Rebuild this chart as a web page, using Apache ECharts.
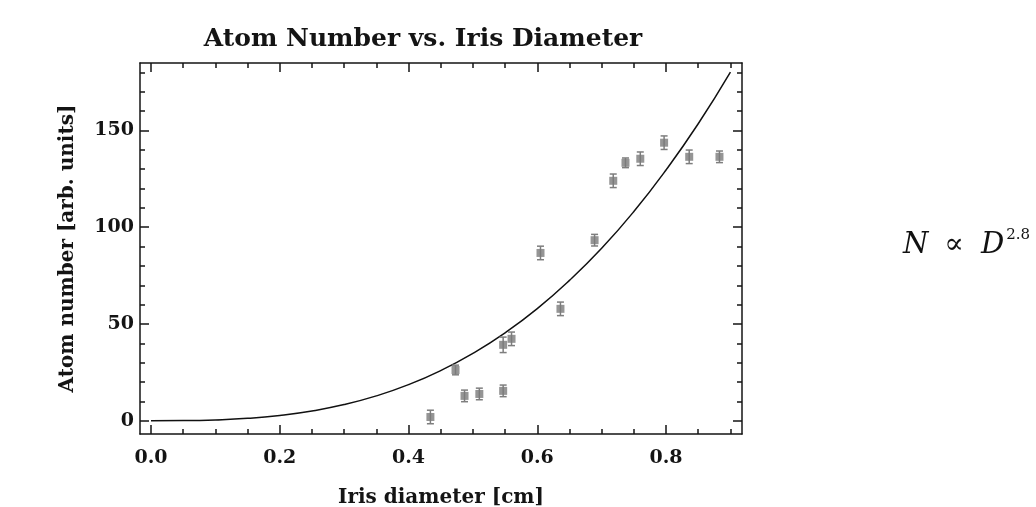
<!DOCTYPE html>
<html><head><meta charset="utf-8">
<script src="https://cdn.jsdelivr.net/npm/echarts@6/dist/echarts.min.js"></script>
<style>html,body{margin:0;padding:0;background:#fff}#c{width:1036px;height:507px}</style>
</head><body><div id="c"></div>
<script>
// Measured data (iris diameter in cm, atom number in arb. units)
const diameters  = [0.434, 0.473, 0.487, 0.510, 0.547, 0.547, 0.560, 0.605, 0.636, 0.689, 0.718, 0.737, 0.760, 0.797, 0.836, 0.883];
const atomNumbers = [1.9, 26.2, 12.8, 13.8, 15.4, 39.2, 42.3, 86.7, 57.8, 93.3, 124.0, 133.3, 135.4, 143.7, 136.4, 136.4];
const atomErrors  = [3.5, 2.5, 3.0, 3.0, 3.0, 4.0, 3.5, 3.5, 3.5, 3.0, 3.5, 2.5, 3.5, 3.5, 3.5, 3.0];
// Fit curve
const fitDiameters  = [0, 0.05, 0.1, 0.15, 0.2, 0.25, 0.3, 0.35, 0.4, 0.45, 0.5, 0.55, 0.6, 0.65, 0.7, 0.75, 0.8, 0.85, 0.9];
const fitAtomNumbers = [0, 0.06, 0.4, 1.2, 2.7, 5.0, 8.3, 12.8, 18.6, 25.9, 34.8, 45.4, 57.9, 72.5, 89.1, 108.1, 129.6, 153.5, 180.2];
// Ticks
const xMajorTicks = [0, 0.2, 0.4, 0.6, 0.8];
const xMinorTicks = [0.05, 0.1, 0.15, 0.25, 0.3, 0.35, 0.45, 0.5, 0.55, 0.65, 0.7, 0.75, 0.85, 0.9];
const yMajorTicks = [0, 50, 100, 150];
const yMinorTicks = [10, 20, 30, 40, 60, 70, 80, 90, 110, 120, 130, 140, 160, 170, 180];

const X_MIN = -0.0171, X_MAX = 0.918, Y_MIN = -6.9, Y_MAX = 184.9;
const FONT = 'DejaVu Serif';
const INK = '#141414';
const frameLine = { color: INK, width: 1.5 };

function xAxisDef(position, ticks, len, withLine, withLabels) {
  return {
    type: 'value', gridIndex: 0, position: position, min: X_MIN, max: X_MAX,
    axisLine: { show: withLine, onZero: false, lineStyle: frameLine },
    axisTick: { show: true, inside: true, length: len, customValues: ticks, lineStyle: frameLine },
    axisLabel: withLabels ? {
      show: true, customValues: ticks, margin: 15,
      formatter: v => v.toFixed(1),
      fontFamily: FONT, fontWeight: 'bold', fontSize: 19, color: INK
    } : { show: false },
    splitLine: { show: false }
  };
}
function yAxisDef(position, ticks, len, withLine, withLabels) {
  return {
    type: 'value', gridIndex: 0, position: position, min: Y_MIN, max: Y_MAX,
    axisLine: { show: withLine, onZero: false, lineStyle: frameLine },
    axisTick: { show: true, inside: true, length: len, customValues: ticks, lineStyle: frameLine },
    axisLabel: withLabels ? {
      show: true, customValues: ticks, margin: 6,
      formatter: v => String(v),
      fontFamily: FONT, fontWeight: 'bold', fontSize: 19, color: INK
    } : { show: false },
    splitLine: { show: false }
  };
}

const xAxes = [
  Object.assign(xAxisDef('bottom', xMajorTicks, 9, true, true), {
    name: 'Iris diameter [cm]', nameLocation: 'middle', nameGap: 54,
    nameTextStyle: { fontFamily: FONT, fontWeight: 'bold', fontSize: 20, color: INK }
  }),
  xAxisDef('bottom', xMinorTicks, 5, false, false),
  xAxisDef('top', xMajorTicks, 9, true, false),
  xAxisDef('top', xMinorTicks, 5, false, false)
];
const yAxes = [
  Object.assign(yAxisDef('left', yMajorTicks, 9, true, true), {
    name: 'Atom number [arb. units]', nameLocation: 'middle', nameGap: 62, nameRotate: 90,
    nameTextStyle: { fontFamily: FONT, fontWeight: 'bold', fontSize: 20, color: INK }
  }),
  yAxisDef('left', yMinorTicks, 5, false, false),
  yAxisDef('right', yMajorTicks, 9, true, false),
  yAxisDef('right', yMinorTicks, 5, false, false)
];

const points = diameters.map((d, i) => [d, atomNumbers[i]]);
const errData = diameters.map((d, i) => [d, atomNumbers[i] - atomErrors[i], atomNumbers[i] + atomErrors[i]]);
const fitData = fitDiameters.map((d, i) => [d, fitAtomNumbers[i]]);

const chart = echarts.init(document.getElementById('c'), null, { renderer: 'canvas' });
chart.setOption({
  backgroundColor: '#ffffff',
  animation: false,
  title: {
    text: 'Atom Number vs. Iris Diameter', left: 418, top: 22, textAlign: 'center',
    textStyle: { fontFamily: FONT, fontWeight: 'bold', fontSize: 25, color: INK }
  },
  grid: { left: 140, top: 63, width: 602, height: 371, containLabel: false, outerBoundsMode: 'none' },
  xAxis: xAxes,
  yAxis: yAxes,
  graphic: [
    {
      type: 'text', right: 6, top: 228,
      style: {
        text: '{i|N}{r|∝}{i|D}{s|2.8}',
        rich: {
          i: { fontFamily: FONT, fontStyle: 'italic', fontSize: 29, fill: '#111', lineHeight: 34 },
          r: { fontFamily: FONT, fontSize: 29, fill: '#111', padding: [0, 17, 0, 16], lineHeight: 34 },
          s: { fontFamily: FONT, fontSize: 15, fill: '#111', verticalAlign: 'top', padding: [0, 0, 0, 2] }
        }
      }
    }
  ],
  series: [
    {
      type: 'line', name: 'fit', data: fitData, smooth: true, showSymbol: false,
      xAxisIndex: 0, yAxisIndex: 0,
      lineStyle: { color: '#111', width: 1.5 }, z: 3
    },
    {
      type: 'custom', name: 'errors', data: errData, xAxisIndex: 0, yAxisIndex: 0, z: 4,
      renderItem: function (params, api) {
        const x = api.value(0);
        const lo = api.coord([x, api.value(1)]);
        const hi = api.coord([x, api.value(2)]);
        const hw = 3.5;
        const st = { stroke: '#7e7e7e', lineWidth: 1.5 };
        return {
          type: 'group', children: [
            { type: 'line', shape: { x1: lo[0], y1: lo[1], x2: hi[0], y2: hi[1] }, style: st },
            { type: 'line', shape: { x1: lo[0] - hw, y1: lo[1], x2: lo[0] + hw, y2: lo[1] }, style: st },
            { type: 'line', shape: { x1: hi[0] - hw, y1: hi[1], x2: hi[0] + hw, y2: hi[1] }, style: st }
          ]
        };
      }
    },
    {
      type: 'scatter', name: 'data', data: points, symbol: 'rect', symbolSize: 8,
      xAxisIndex: 0, yAxisIndex: 0, z: 5,
      itemStyle: { color: '#7a7a7a' }
    }
  ]
});
</script>
</body></html>
